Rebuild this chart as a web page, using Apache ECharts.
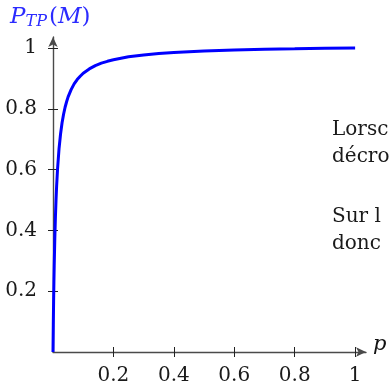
<!DOCTYPE html>
<html>
<head>
<meta charset="utf-8">
<script src="https://cdn.jsdelivr.net/npm/echarts@6/dist/echarts.min.js"></script>
<style>
  html, body { margin: 0; padding: 0; background: #fff; }
  #main { width: 392px; height: 388px; }
</style>
</head>
<body>
<div id="main"></div>
<script>
// valeurs
var pValues = [0, 0.001, 0.002, 0.003, 0.004, 0.006, 0.008, 0.01, 0.012, 0.015, 0.02, 0.025, 0.03, 0.035, 0.04, 0.045, 0.05, 0.06, 0.07, 0.08, 0.09, 0.1,
    0.12, 0.14, 0.16, 0.18, 0.2, 0.25, 0.3, 0.35, 0.4, 0.5, 0.6, 0.7, 0.8, 0.9, 1];
var ptpValues = [0, 0.09, 0.166, 0.23, 0.284, 0.374, 0.444, 0.5, 0.546, 0.601, 0.669, 0.717, 0.754, 0.782, 0.805, 0.823, 0.839, 0.863, 0.882, 0.896, 0.907, 0.917,
    0.931, 0.942, 0.95, 0.956, 0.961, 0.971, 0.977, 0.982, 0.985, 0.99, 0.993, 0.996, 0.997, 0.999, 1];
var xTicks = [0.2, 0.4, 0.6, 0.8, 1];
var yTicks = [0.2, 0.4, 0.6, 0.8, 1];
var sideText = ["Lorsc", "décro", "Sur l", "donc"];

var FONT = "'DejaVu Serif', 'Liberation Serif', serif";
var AXIS_MAX = 1.036;

var points = [];
for (var i = 0; i < pValues.length; ++i) {
    points.push([pValues[i], ptpValues[i]]);
}

function fmt(v) {
    return v >= 0.999 ? "1" : String(Math.round(v * 10) / 10);
}

function makeAxis(main, ticks, margin) {
    return {
        type: 'value',
        min: 0,
        max: AXIS_MAX,
        splitLine: { show: false },
        axisLine: main ? {
            show: true,
            symbol: ['none', 'arrow'],
            symbolSize: [7, 10],
            lineStyle: { color: '#4a4a4a', width: 1.4 }
        } : { show: false },
        axisTick: {
            show: true,
            inside: !main,
            length: 5,
            customValues: ticks,
            lineStyle: { color: '#222', width: 1 }
        },
        axisLabel: {
            show: main,
            margin: margin,
            customValues: ticks,
            formatter: fmt,
            fontFamily: FONT,
            fontSize: 20,
            color: '#1a1a1a'
        }
    };
}

var graphics = [
    {
        type: 'text',
        left: 10,
        top: 6,
        style: {
            text: '{p|P}{s|TP}{n|(}{m|M}{n|)}',
            fill: '#2b2bff',
            rich: {
                p: { fontFamily: FONT, fontStyle: 'italic', fontSize: 23, fill: '#2b2bff' },
                s: { fontFamily: FONT, fontStyle: 'italic', fontSize: 16, fill: '#2b2bff', padding: [9, 2, 0, 0] },
                n: { fontFamily: FONT, fontSize: 23, fill: '#2b2bff' },
                m: { fontFamily: FONT, fontStyle: 'italic', fontSize: 23, fill: '#2b2bff' }
            }
        }
    },
    {
        type: 'text',
        left: 373,
        top: 334,
        style: { text: 'p', fontFamily: FONT, fontStyle: 'italic', fontSize: 21, fill: '#111' }
    }
];
var textTops = [120, 147, 207, 234];
for (var k = 0; k < sideText.length; ++k) {
    graphics.push({
        type: 'text',
        left: 332,
        top: textTops[k],
        style: { text: sideText[k], fontFamily: FONT, fontSize: 20, fill: '#1a1a1a' }
    });
}

var xMain = makeAxis(true, xTicks, 14);
var xInner = makeAxis(false, xTicks, 14);
xMain.position = xInner.position = 'bottom';
var yMain = makeAxis(true, yTicks, 16);
var yInner = makeAxis(false, yTicks, 16);
yMain.position = yInner.position = 'left';

var chart = echarts.init(document.getElementById('main'), null, { renderer: 'canvas' });
chart.setOption({
    animation: false,
    backgroundColor: '#fff',
    grid: { left: 53, right: 26, top: 37, bottom: 36, containLabel: false },
    xAxis: [xMain, xInner],
    yAxis: [yMain, yInner],
    graphic: graphics,
    series: [
        {
            type: 'line',
            data: points,
            showSymbol: false,
            smooth: false,
            lineStyle: { color: '#0000ff', width: 3 },
            clip: false
        }
    ]
});
</script>
</body>
</html>
